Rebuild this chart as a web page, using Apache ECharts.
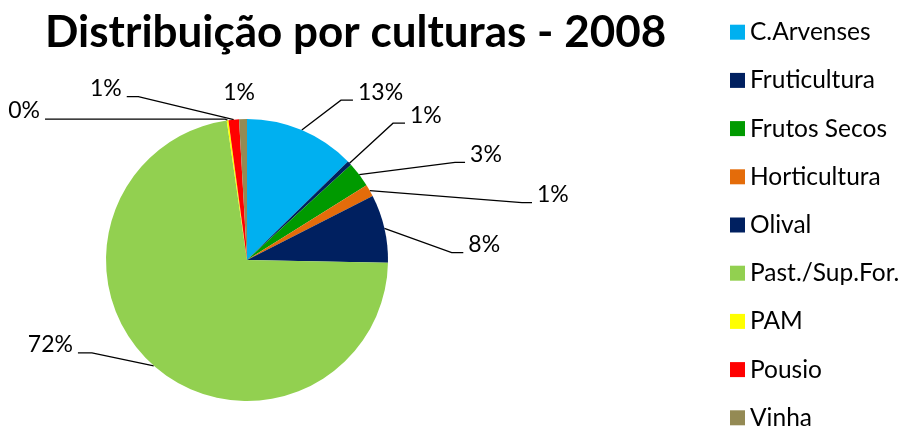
<!DOCTYPE html>
<html><head><meta charset="utf-8">
<script src="https://cdn.jsdelivr.net/npm/echarts@6/dist/echarts.min.js"></script>
<style>html,body{margin:0;padding:0;background:#fff}#c{width:904px;height:428px}</style>
</head><body><div id="c"></div>
<script>
const titleText = 'Distribuição por culturas - 2008';
const categories = ['C.Arvenses', 'Fruticultura', 'Frutos Secos', 'Horticultura', 'Olival', 'Past./Sup.For.', 'PAM', 'Pousio', 'Vinha'];
const values = [12.7, 0.5, 2.9, 1.4, 7.8, 72.4, 0.2, 1.2, 0.9];

const colors = ['#00B0F0', '#002060', '#009A00', '#E46C0A', '#002060', '#92D050', '#FFFF00', '#FF0000', '#948A54'];
// label placement tweaks (label offsets from ECharts default position, px)
const labelTweaks = [
  { dx: 31.4, dy: -11.5, len2: 12, line: true },
  { dx: 29, dy: -26.2, len2: 12, line: true },
  { dx: 79.9, dy: -0.2, len2: 10, line: true },
  { dx: 134.9, dy: 21.9, len2: 10, line: true },
  { dx: 47.8, dy: 28.8, len2: 11.6, line: true },
  { dx: -48.6, dy: -27.8, len2: 14, line: true },
  { dx: 0.2, dy: 18.5, len2: 180, line: true },
  { dx: -93.5, dy: -3, len2: 11.6, line: true },
  { dx: 17.6, dy: 2, len2: 0, line: false }
];
const TEXT_RAISE = 8; // Excel-style: label text sits above its leader line
const FONT = 'Lato';

const chart = echarts.init(document.getElementById('c'), null, { renderer: 'canvas' });
const data = categories.map((name, i) => ({
  name: name,
  value: values[i],
  itemStyle: { color: colors[i] },
  labelLine: { show: labelTweaks[i].line, length: 20, length2: labelTweaks[i].len2 }
}));

chart.setOption({
  animation: false,
  backgroundColor: '#ffffff',
  title: {
    text: titleText,
    left: 45, top: 11,
    padding: 0,
    textStyle: { fontFamily: FONT, fontWeight: 'bold', fontSize: 44, color: '#000' }
  },
  legend: {
    orient: 'vertical',
    left: 730, top: 19.7,
    height: 520,
    padding: 0,
    itemWidth: 15, itemHeight: 15, itemGap: 23.2, itemTextGap: 5,
    icon: 'rect',
    data: categories,
    textStyle: { fontFamily: FONT, fontSize: 24.5, lineHeight: 24, color: '#000' }
  },
  series: [{
    type: 'pie',
    center: [247, 260],
    radius: 141,
    startAngle: 90,
    clockwise: true,
    avoidLabelOverlap: false,
    data: data,
    label: {
      show: true,
      position: 'outside',
      fontFamily: FONT, fontSize: 23, color: '#000',
      formatter: p => Math.round(p.value) + '%'
    },
    labelLine: { lineStyle: { color: '#000', width: 1.3 } },
    labelLayout: function (p) {
      const t = labelTweaks[p.dataIndex];
      const r = p.labelRect;
      const ax = (p.align === 'right') ? r.x + r.width : r.x;
      const res = { x: ax + t.dx, y: r.y + r.height / 2 + t.dy - TEXT_RAISE };
      if (p.labelLinePoints) {
        const pts = p.labelLinePoints.map(q => [q[0], q[1]]);
        pts[1][0] += t.dx; pts[1][1] += t.dy;
        pts[2][0] += t.dx; pts[2][1] += t.dy;
        res.labelLinePoints = pts;
      }
      return res;
    },
    emphasis: { disabled: true }
  }]
});
</script></body></html>
